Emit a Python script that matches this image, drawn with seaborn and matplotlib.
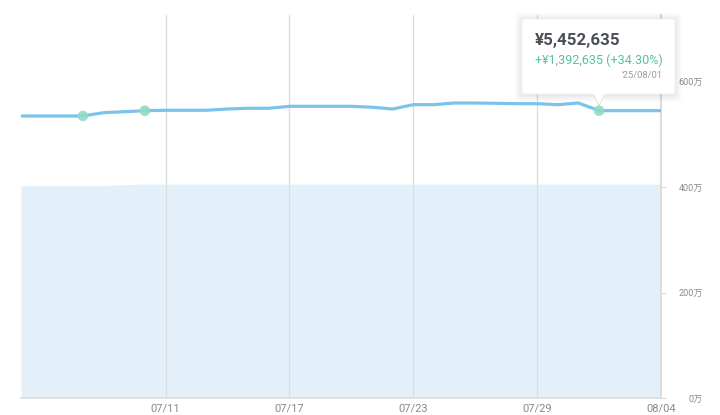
import matplotlib
matplotlib.use("Agg")
import matplotlib.pyplot as plt
import matplotlib.dates as mdates
import matplotlib.patches as mpatches
from matplotlib.patches import FancyBboxPatch, Polygon
from matplotlib.ticker import FuncFormatter
import seaborn as sns
import pandas as pd

# ---- data ----
dates = pd.date_range("2025-07-04", "2025-08-04", freq="D")
values = [5352000, 5352000, 5352000, 5352000, 5414000, 5433000, 5452000,
          5460000, 5460000, 5460000, 5484000, 5498000, 5498000, 5535000,
          5535000, 5535000, 5535000, 5518000, 5484000, 5566000, 5566000,
          5598000, 5598000, 5592000, 5585000, 5585000, 5566000, 5598000,
          5452635, 5452635, 5452635, 5452635]
cost = [4035000, 4035000, 4035000, 4035000, 4035000, 4050000, 4060000,
        4060000, 4060000, 4060000, 4060000, 4060000, 4060000, 4060000,
        4060000, 4060000, 4060000, 4060000, 4060000, 4060000, 4060000,
        4060000, 4060000, 4060000, 4060000, 4060000, 4060000, 4060000,
        4060000, 4060000, 4060000, 4060000]
marker_dates = ["2025-07-07", "2025-07-10", "2025-08-01"]
xtick_dates = ["2025-07-11", "2025-07-17", "2025-07-23", "2025-07-29", "2025-08-04"]
ytick_values = [0, 2000000, 4000000, 6000000]

tooltip_value = "¥5,452,635"
tooltip_change = "+¥1,392,635 (+34.30%)"
tooltip_date = "'25/08/01"

df = pd.DataFrame({"date": dates, "value": values, "cost": cost})
mk = df[df["date"].isin(pd.to_datetime(marker_dates))]

# ---- style ----
sns.set_theme(style="white")
plt.rcParams["font.family"] = ["Roboto", "Noto Sans CJK JP", "DejaVu Sans"]

fig = plt.figure(figsize=(7.2, 4.15), dpi=100)
ax = fig.add_axes([21/720, 1 - 398.3/415, (661-21)/720, (398.3-15)/415])

ax.fill_between(df["date"], 0, df["cost"], color="#e4f0f9", linewidth=0, zorder=1)
sns.lineplot(data=df, x="date", y="value", ax=ax, color="#7cc3ec", linewidth=2.3,
             zorder=3)
sns.scatterplot(data=mk, x="date", y="value", ax=ax, color="#8fdcc6", s=58,
                edgecolor="none", alpha=0.9, zorder=4)

ax.set_xlim(dates[0], dates[-1])
ax.set_ylim(0, 7266000)
ax.set_xlabel("")
ax.set_ylabel("")

ax.set_xticks(pd.to_datetime(xtick_dates))
ax.xaxis.set_major_formatter(mdates.DateFormatter("%m/%d"))
ax.tick_params(axis="x", length=0, pad=4, labelsize=8, labelcolor="#8a8a8a")
ax.grid(axis="x", color="#d9dde0", linewidth=0.9, zorder=2)
ax.set_axisbelow(False)
for gl in ax.get_xgridlines():
    gl.set_zorder(2)

ax.yaxis.tick_right()
ax.set_yticks(ytick_values)
ax.yaxis.set_major_formatter(FuncFormatter(lambda v, p: f"{v/1e4:.0f}万"))
ax.tick_params(axis="y", length=3.6, width=0.8, color="#dddddd", pad=26.5,
               labelsize=6.5, labelcolor="#8a8a8a")
for lab in ax.get_yticklabels():
    lab.set_horizontalalignment("right")

for s in ["top", "left"]:
    ax.spines[s].set_visible(False)
ax.spines["right"].set_color("#dcdcdc")
ax.spines["right"].set_linewidth(1.5)
ax.spines["bottom"].set_color("#dcdcdc")
ax.spines["bottom"].set_linewidth(1.2)

# ---- tooltip ----
W, H = 720, 415
def fx(x): return x / W
def fy(y): return 1 - y / H

x0, x1, y0, y1 = 522, 675, 19, 94
for d in range(7, 0, -1):
    sh = FancyBboxPatch((fx(x0 - d), fy(y1 + d + 1)), fx(x1 - x0 + 2*d), (y1 - y0 + 2*d) / H,
                        boxstyle="round,pad=0,rounding_size=0.01",
                        transform=fig.transFigure, facecolor="black", edgecolor="none",
                        alpha=0.012, zorder=5)
    fig.patches.append(sh)
box = FancyBboxPatch((fx(x0), fy(y1)), fx(x1 - x0), (y1 - y0) / H,
                     boxstyle="round,pad=0,rounding_size=0.005",
                     transform=fig.transFigure, facecolor="white", edgecolor="#f0f0f0",
                     linewidth=0.5, zorder=6)
fig.patches.append(box)
tri = Polygon([(fx(594), fy(93.5)), (fx(604), fy(93.5)), (fx(599), fy(106))],
              closed=True, transform=fig.transFigure, facecolor="white",
              edgecolor="#cccccc", linewidth=0.6, zorder=6)
fig.patches.append(tri)
cover = Polygon([(fx(593.5), fy(93.2)), (fx(604.5), fy(93.2)), (fx(599), fy(105))],
                closed=True, transform=fig.transFigure, facecolor="white",
                edgecolor="none", zorder=6.5)
fig.patches.append(cover)
edge_fix = mpatches.Rectangle((fx(592), fy(94.2)), fx(14), 1.2 / H, transform=fig.transFigure,
                              facecolor="white", edgecolor="none", zorder=6.6)
fig.patches.append(edge_fix)

fig.text(fx(535), fy(40.5), tooltip_value, fontsize=12.2, fontweight="bold",
         color="#4a4f55", ha="left", va="center", zorder=7)
fig.text(fx(535), fy(60), tooltip_change, fontsize=9, color="#56c397",
         ha="left", va="center", zorder=7)
fig.text(fx(663), fy(75.5), tooltip_date, fontsize=6.8, color="#9a9a9a",
         ha="right", va="center", zorder=7)

fig.savefig("out.png", dpi=100)
